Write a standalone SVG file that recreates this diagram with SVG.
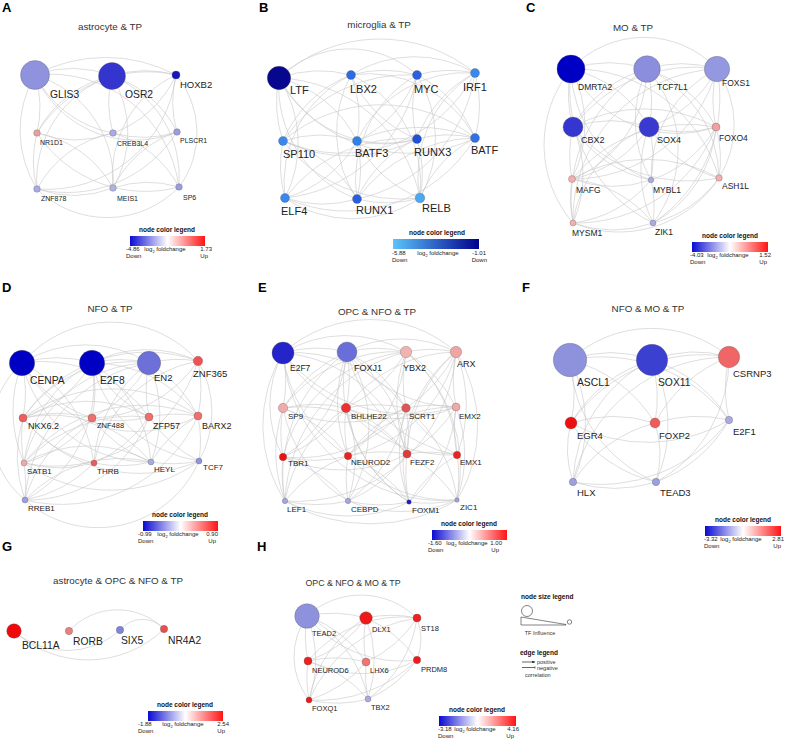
<svg xmlns="http://www.w3.org/2000/svg" width="787" height="740" viewBox="0 0 787 740">
<defs>
<linearGradient id="gBWR" x1="0" x2="1" y1="0" y2="0"><stop offset="0" stop-color="#0a0ad2"/><stop offset="0.5" stop-color="#ffffff"/><stop offset="1" stop-color="#ff1414"/></linearGradient>
<linearGradient id="gB" x1="0" x2="1" y1="0" y2="0"><stop offset="0" stop-color="#5cc4fc"/><stop offset="1" stop-color="#00008c"/></linearGradient>
<marker id="arr" viewBox="0 0 6 6" refX="6" refY="3" markerWidth="4" markerHeight="4" orient="auto"><path d="M0 0L6 3L0 6z" fill="#222"/></marker>
<marker id="tbar" viewBox="0 0 2 6" refX="1" refY="3" markerWidth="1.6" markerHeight="4" orient="auto"><path d="M1 0V6" stroke="#222" stroke-width="1"/></marker>
</defs>
<style>
text{font-family:"Liberation Sans",Arial,sans-serif;fill:#222}
.e{fill:none;stroke:#c8c8c8;stroke-width:.6}
.n circle{stroke:#555;stroke-width:.5;stroke-opacity:.6}
.pl{font-size:13px;font-weight:bold;fill:#000}
.t{font-size:9.8px;fill:#333;text-anchor:middle}
.lt{font-size:6.5px;font-weight:bold;text-anchor:middle;fill:#111}
.lv{font-size:6px;fill:#222}
.lm{text-anchor:middle}
.r{text-anchor:end}
.s11{font-size:11px}.s10{font-size:10.3px}.s95{font-size:9.5px}.s9{font-size:9px}.s85{font-size:8.5px}.s8{font-size:8px}.s75{font-size:7.5px}.s7{font-size:7px}
.ls{font-size:5.5px;fill:#333}
.lk{stroke:#222;stroke-width:.7;fill:none}
</style>
<rect width="787" height="740" fill="#fff"/>

<g id="panel-letters">
<text class="pl" x="2" y="12">A</text><text class="pl" x="259" y="12">B</text><text class="pl" x="526" y="12">C</text>
<text class="pl" x="2" y="292">D</text><text class="pl" x="258" y="292">E</text><text class="pl" x="522" y="292">F</text>
<text class="pl" x="2" y="551">G</text><text class="pl" x="257" y="551">H</text>
</g>
<g id="titles">
<text class="t" x="110" y="30">astrocyte &amp; TP</text>
<text class="t" x="379" y="28">microglia &amp; TP</text>
<text class="t" x="633" y="31">MO &amp; TP</text>
<text class="t" x="110" y="312">NFO &amp; TP</text>
<text class="t" x="377" y="315">OPC &amp; NFO &amp; TP</text>
<text class="t" x="648" y="312">NFO &amp; MO &amp; TP</text>
<text class="t" x="118" y="584">astrocyte &amp; OPC &amp; NFO &amp; TP</text>
<text class="t" x="353" y="586" style="font-size:8.8px">OPC &amp; NFO &amp; MO &amp; TP</text>
</g>

<g id="connectors" class="e">
<g id="edges-A">
<path d="M35 75A110 110 0 0 1 112 76"/><path d="M35 75A150 150 0 0 1 176 75"/><path d="M112 76A110 110 0 0 1 176 75"/>
<path d="M35 75A110 110 0 0 0 113 133"/><path d="M35 75A110 110 0 0 1 113 188"/><path d="M35 75A110 110 0 0 0 177 132"/>
<path d="M35 75A130 130 0 0 1 179 187"/><path d="M35 75A110 110 0 0 0 37 189"/><path d="M35 75A110 110 0 0 1 37 133"/>
<path d="M112 76A110 110 0 0 0 37 133"/><path d="M112 76A110 110 0 0 0 37 189"/><path d="M112 76A110 110 0 0 1 113 188"/>
<path d="M112 76A110 110 0 0 1 177 132"/><path d="M112 76A110 110 0 0 1 179 187"/><path d="M112 76A110 110 0 0 0 113 133"/>
<path d="M176 75A130 130 0 0 0 37 133"/><path d="M176 75A110 110 0 0 1 113 133"/><path d="M176 75A110 110 0 0 0 177 132"/>
<path d="M176 75A130 130 0 0 1 37 189"/><path d="M176 75A110 110 0 0 0 113 188"/><path d="M176 75A90 90 0 0 1 179 187"/>
<path d="M37 133A110 110 0 0 0 113 133"/><path d="M37 133A110 110 0 0 1 113 188"/><path d="M37 133A110 110 0 0 0 37 189"/>
<path d="M37 133A130 130 0 0 0 179 187"/><path d="M113 133A110 110 0 0 0 37 189"/><path d="M113 133A110 110 0 0 0 177 132"/>
<path d="M113 133A110 110 0 0 1 179 187"/><path d="M177 132A130 130 0 0 1 37 189"/><path d="M177 132A110 110 0 0 0 113 188"/>
<path d="M37 189A110 110 0 0 0 113 188"/><path d="M37 189A100 100 0 0 0 179 187"/><path d="M113 188A110 110 0 0 1 179 187"/>
</g>
<g id="edges-B">
<path d="M279 78A120 120 0 0 1 351 75"/><path d="M279 78A100 100 0 0 1 417 75"/><path d="M279 78A150 150 0 0 1 475 73"/>
<path d="M351 75A120 120 0 0 1 417 75"/><path d="M351 75A120 120 0 0 1 475 73"/><path d="M417 75A120 120 0 0 1 475 73"/>
<path d="M279 78A120 120 0 0 0 283 141"/><path d="M279 78A120 120 0 0 1 357 141"/><path d="M279 78A120 120 0 0 0 417 139"/>
<path d="M279 78A150 150 0 0 0 475 138"/><path d="M279 78A120 120 0 0 1 285 198"/><path d="M279 78A120 120 0 0 0 357 199"/>
<path d="M279 78A150 150 0 0 1 420 198"/>
<path d="M351 75A120 120 0 0 0 283 141"/><path d="M351 75A120 120 0 0 1 357 141"/><path d="M351 75A120 120 0 0 0 417 139"/>
<path d="M351 75A120 120 0 0 1 475 138"/><path d="M351 75A120 120 0 0 0 285 198"/><path d="M351 75A120 120 0 0 0 357 199"/>
<path d="M351 75A120 120 0 0 1 420 198"/>
<path d="M417 75A150 150 0 0 0 283 141"/><path d="M417 75A120 120 0 0 1 357 141"/><path d="M417 75A120 120 0 0 0 417 139"/>
<path d="M417 75A120 120 0 0 1 475 138"/><path d="M417 75A150 150 0 0 1 285 198"/><path d="M417 75A120 120 0 0 0 357 199"/>
<path d="M417 75A120 120 0 0 1 420 198"/>
<path d="M475 73A150 150 0 0 1 283 141"/><path d="M475 73A120 120 0 0 0 357 141"/><path d="M475 73A120 120 0 0 0 417 139"/>
<path d="M475 73A120 120 0 0 1 475 138"/><path d="M475 73A150 150 0 0 1 357 199"/><path d="M475 73A120 120 0 0 0 420 198"/>
<path d="M283 141A120 120 0 0 1 357 141"/><path d="M283 141A150 150 0 0 0 417 139"/><path d="M283 141A120 120 0 0 0 285 198"/>
<path d="M283 141A120 120 0 0 1 357 199"/><path d="M283 141A150 150 0 0 0 420 198"/><path d="M283 141A150 150 0 0 1 475 138"/>
<path d="M357 141A120 120 0 0 0 417 139"/><path d="M357 141A120 120 0 0 1 285 198"/><path d="M357 141A120 120 0 0 1 357 199"/>
<path d="M357 141A120 120 0 0 0 420 198"/><path d="M357 141A150 150 0 0 1 475 138"/>
<path d="M417 139A120 120 0 0 1 475 138"/><path d="M417 139A120 120 0 0 1 420 198"/><path d="M417 139A150 150 0 0 0 285 198"/>
<path d="M417 139A120 120 0 0 0 357 199"/>
<path d="M475 138A120 120 0 0 0 420 198"/><path d="M475 138A150 150 0 0 0 357 199"/><path d="M475 138A150 150 0 0 1 285 198"/>
<path d="M285 198A120 120 0 0 0 357 199"/><path d="M285 198A120 120 0 0 0 420 198"/><path d="M357 199A120 120 0 0 0 420 198"/>
</g>
<g id="edges-C">
<path d="M571 69A120 120 0 0 1 647 69"/><path d="M571 69A100 100 0 0 1 717 69"/><path d="M647 69A120 120 0 0 1 717 69"/>
<path d="M571 69A120 120 0 0 0 573 127"/><path d="M571 69A120 120 0 0 1 649 127"/><path d="M571 69A120 120 0 0 0 716 127"/>
<path d="M571 69A120 120 0 0 1 572 179"/><path d="M571 69A120 120 0 0 0 651 180"/><path d="M571 69A150 150 0 0 1 719 178"/>
<path d="M571 69A120 120 0 0 0 573 223"/><path d="M571 69A150 150 0 0 0 653 223"/>
<path d="M647 69A120 120 0 0 0 573 127"/><path d="M647 69A120 120 0 0 1 649 127"/><path d="M647 69A120 120 0 0 1 716 127"/>
<path d="M647 69A120 120 0 0 1 572 179"/><path d="M647 69A120 120 0 0 0 651 180"/><path d="M647 69A120 120 0 0 1 719 178"/>
<path d="M647 69A150 150 0 0 0 573 223"/><path d="M647 69A120 120 0 0 1 653 223"/>
<path d="M717 69A150 150 0 0 0 573 127"/><path d="M717 69A120 120 0 0 1 649 127"/><path d="M717 69A120 120 0 0 0 716 127"/>
<path d="M717 69A150 150 0 0 1 572 179"/><path d="M717 69A120 120 0 0 0 651 180"/><path d="M717 69A100 100 0 0 1 719 178"/>
<path d="M717 69A150 150 0 0 0 573 223"/><path d="M717 69A150 150 0 0 1 653 223"/>
<path d="M573 127A120 120 0 0 1 649 127"/><path d="M573 127A150 150 0 0 1 716 127"/><path d="M573 127A120 120 0 0 0 572 179"/>
<path d="M573 127A120 120 0 0 0 651 180"/><path d="M573 127A120 120 0 0 1 573 223"/><path d="M573 127A150 150 0 0 0 719 178"/>
<path d="M649 127A120 120 0 0 0 716 127"/><path d="M649 127A120 120 0 0 1 572 179"/><path d="M649 127A120 120 0 0 1 651 180"/>
<path d="M649 127A120 120 0 0 0 719 178"/><path d="M649 127A120 120 0 0 0 573 223"/><path d="M649 127A120 120 0 0 0 653 223"/>
<path d="M716 127A150 150 0 0 0 572 179"/><path d="M716 127A120 120 0 0 1 651 180"/><path d="M716 127A120 120 0 0 1 719 178"/>
<path d="M716 127A150 150 0 0 1 573 223"/><path d="M716 127A120 120 0 0 1 653 223"/>
<path d="M572 179A120 120 0 0 0 651 180"/><path d="M572 179A120 120 0 0 0 573 223"/><path d="M572 179A120 120 0 0 1 653 223"/>
<path d="M572 179A150 150 0 0 1 719 178"/><path d="M651 180A120 120 0 0 1 653 223"/><path d="M651 180A120 120 0 0 1 573 223"/>
<path d="M719 178A120 120 0 0 1 653 223"/><path d="M719 178A120 120 0 0 1 573 223"/><path d="M573 223A120 120 0 0 0 653 223"/>
</g>
<g id="edges-D">
<path d="M22 363A120 120 0 0 1 92 363"/><path d="M22 363A120 120 0 0 1 149 363"/><path d="M22 363A117 117 0 0 1 198 361"/>
<path d="M92 363A120 120 0 0 1 149 363"/><path d="M92 363A120 120 0 0 1 198 361"/><path d="M149 363A120 120 0 0 1 198 361"/>
<path d="M22 363A130 130 0 0 1 23 418"/><path d="M22 363A130 130 0 0 0 92 418"/><path d="M22 363A130 130 0 0 1 149 417"/>
<path d="M22 363A130 130 0 0 0 198 416"/><path d="M22 363A130 130 0 0 0 24 463"/><path d="M22 363A130 130 0 0 1 94 463"/>
<path d="M22 363A130 130 0 0 0 151 462"/><path d="M22 363A90 90 0 0 0 25 500"/>
<path d="M92 363A130 130 0 0 1 23 418"/><path d="M92 363A130 130 0 0 1 92 418"/><path d="M92 363A130 130 0 0 0 149 417"/>
<path d="M92 363A130 130 0 0 1 198 416"/><path d="M92 363A130 130 0 0 0 24 463"/><path d="M92 363A130 130 0 0 1 151 462"/>
<path d="M92 363A130 130 0 0 0 199 461"/><path d="M92 363A130 130 0 0 1 25 500"/>
<path d="M149 363A130 130 0 0 0 23 418"/><path d="M149 363A130 130 0 0 1 92 418"/><path d="M149 363A130 130 0 0 0 149 417"/>
<path d="M149 363A130 130 0 0 1 198 416"/><path d="M149 363A130 130 0 0 0 94 463"/><path d="M149 363A130 130 0 0 1 151 462"/>
<path d="M149 363A130 130 0 0 0 24 463"/><path d="M149 363A150 150 0 0 0 25 500"/>
<path d="M198 361A150 150 0 0 0 23 418"/><path d="M198 361A130 130 0 0 1 92 418"/><path d="M198 361A130 130 0 0 1 198 416"/>
<path d="M198 361A100 100 0 0 1 199 461"/><path d="M198 361A130 130 0 0 0 94 463"/><path d="M198 361A150 150 0 0 1 24 463"/>
<path d="M23 418A130 130 0 0 1 92 418"/><path d="M23 418A130 130 0 0 1 149 417"/><path d="M23 418A150 150 0 0 1 198 416"/>
<path d="M23 418A130 130 0 0 0 24 463"/><path d="M23 418A130 130 0 0 0 25 500"/><path d="M23 418A130 130 0 0 0 94 463"/>
<path d="M23 418A130 130 0 0 1 151 462"/><path d="M23 418A150 150 0 0 0 199 461"/>
<path d="M92 418A130 130 0 0 0 149 417"/><path d="M92 418A130 130 0 0 1 24 463"/><path d="M92 418A130 130 0 0 0 25 500"/>
<path d="M92 418A130 130 0 0 0 151 462"/>
<path d="M149 417A130 130 0 0 1 198 416"/><path d="M149 417A150 150 0 0 0 24 463"/><path d="M149 417A130 130 0 0 1 25 500"/>
<path d="M149 417A130 130 0 0 0 199 461"/><path d="M149 417A130 130 0 0 1 94 463"/>
<path d="M198 416A130 130 0 0 1 199 461"/><path d="M198 416A150 150 0 0 0 24 463"/><path d="M198 416A150 150 0 0 1 25 500"/>
<path d="M198 416A130 130 0 0 0 151 462"/>
<path d="M24 463A130 130 0 0 0 94 463"/><path d="M24 463A130 130 0 0 1 151 462"/><path d="M24 463A130 130 0 0 1 25 500"/>
<path d="M24 463A150 150 0 0 0 199 461"/><path d="M94 463A130 130 0 0 0 151 462"/><path d="M94 463A130 130 0 0 1 25 500"/>
<path d="M151 462A130 130 0 0 0 199 461"/><path d="M151 462A130 130 0 0 0 25 500"/><path d="M199 461A110 110 0 0 1 25 500"/>
</g>
<g id="edges-E">
<path d="M283 353A120 120 0 0 1 347 352"/><path d="M283 353A120 120 0 0 1 406 352"/><path d="M283 353A130 130 0 0 1 456 352"/>
<path d="M347 352A120 120 0 0 1 406 352"/><path d="M347 352A120 120 0 0 1 456 352"/><path d="M406 352A120 120 0 0 1 456 352"/>
<path d="M283 353A140 140 0 0 0 285 501"/><path d="M283 353A110 110 0 0 0 283 457"/><path d="M283 353A160 160 0 0 0 457 500"/>
<path d="M456 352A140 140 0 0 1 457 500"/><path d="M456 352A160 160 0 0 1 285 501"/><path d="M285 501A170 170 0 0 0 457 500"/>
<path d="M347 352A150 150 0 0 0 285 501"/><path d="M406 352A150 150 0 0 1 457 500"/>
<path d="M283 353A140 140 0 0 1 283 408"/><path d="M283 353A140 140 0 0 0 346 408"/><path d="M283 353A140 140 0 0 1 406 408"/>
<path d="M283 353A140 140 0 0 0 348 456"/><path d="M283 353A140 140 0 0 1 407 454"/><path d="M283 353A160 160 0 0 0 456 407"/>
<path d="M347 352A140 140 0 0 0 283 408"/><path d="M347 352A140 140 0 0 1 346 408"/><path d="M347 352A140 140 0 0 1 406 408"/>
<path d="M347 352A140 140 0 0 0 456 407"/><path d="M347 352A140 140 0 0 1 283 457"/><path d="M347 352A140 140 0 0 0 348 456"/>
<path d="M347 352A140 140 0 0 1 407 454"/><path d="M347 352A140 140 0 0 0 457 455"/><path d="M347 352A140 140 0 0 1 348 501"/>
<path d="M347 352A140 140 0 0 0 409 502"/>
<path d="M406 352A140 140 0 0 0 283 408"/><path d="M406 352A140 140 0 0 1 346 408"/><path d="M406 352A140 140 0 0 0 406 408"/>
<path d="M406 352A140 140 0 0 1 456 407"/><path d="M406 352A140 140 0 0 0 283 457"/><path d="M406 352A140 140 0 0 1 348 456"/>
<path d="M406 352A140 140 0 0 0 407 454"/><path d="M406 352A140 140 0 0 1 457 455"/><path d="M406 352A160 160 0 0 0 285 501"/>
<path d="M456 352A140 140 0 0 0 346 408"/><path d="M456 352A140 140 0 0 1 406 408"/><path d="M456 352A140 140 0 0 0 456 407"/>
<path d="M456 352A140 140 0 0 1 348 456"/><path d="M456 352A140 140 0 0 0 407 454"/><path d="M456 352A140 140 0 0 1 457 455"/>
<path d="M456 352A140 140 0 0 0 409 502"/>
<path d="M283 408A140 140 0 0 1 346 408"/><path d="M283 408A140 140 0 0 0 406 408"/><path d="M283 408A140 140 0 0 0 283 457"/>
<path d="M283 408A140 140 0 0 1 348 456"/><path d="M283 408A140 140 0 0 0 285 501"/><path d="M283 408A140 140 0 0 0 348 501"/>
<path d="M283 408A140 140 0 0 1 407 454"/>
<path d="M346 408A140 140 0 0 1 406 408"/><path d="M346 408A140 140 0 0 0 456 407"/><path d="M346 408A140 140 0 0 1 283 457"/>
<path d="M346 408A140 140 0 0 0 348 456"/><path d="M346 408A140 140 0 0 1 407 454"/><path d="M346 408A140 140 0 0 0 457 455"/>
<path d="M346 408A140 140 0 0 0 285 501"/><path d="M346 408A140 140 0 0 1 348 501"/><path d="M346 408A140 140 0 0 0 409 502"/>
<path d="M406 408A140 140 0 0 1 456 407"/><path d="M406 408A140 140 0 0 0 348 456"/><path d="M406 408A140 140 0 0 1 407 454"/>
<path d="M406 408A140 140 0 0 0 457 455"/><path d="M406 408A140 140 0 0 1 348 501"/><path d="M406 408A140 140 0 0 0 409 502"/>
<path d="M406 408A140 140 0 0 1 457 500"/><path d="M406 408A140 140 0 0 1 283 457"/>
<path d="M456 407A140 140 0 0 1 407 454"/><path d="M456 407A140 140 0 0 0 457 455"/><path d="M456 407A140 140 0 0 1 409 502"/>
<path d="M456 407A140 140 0 0 1 457 500"/><path d="M456 407A140 140 0 0 0 348 456"/>
<path d="M283 457A140 140 0 0 0 348 456"/><path d="M283 457A140 140 0 0 0 285 501"/><path d="M283 457A140 140 0 0 1 348 501"/>
<path d="M283 457A140 140 0 0 0 407 454"/>
<path d="M348 456A140 140 0 0 1 407 454"/><path d="M348 456A140 140 0 0 0 348 501"/><path d="M348 456A140 140 0 0 1 409 502"/>
<path d="M348 456A140 140 0 0 0 285 501"/><path d="M348 456A140 140 0 0 0 457 500"/>
<path d="M407 454A140 140 0 0 1 457 455"/><path d="M407 454A140 140 0 0 0 409 502"/><path d="M407 454A140 140 0 0 1 457 500"/>
<path d="M407 454A140 140 0 0 1 348 501"/><path d="M457 455A140 140 0 0 1 457 500"/><path d="M457 455A140 140 0 0 0 409 502"/>
<path d="M285 501A140 140 0 0 0 348 501"/><path d="M348 501A140 140 0 0 0 409 502"/><path d="M409 502A140 140 0 0 0 457 500"/>
<path d="M285 501A140 140 0 0 0 409 502"/><path d="M348 501A140 140 0 0 0 457 500"/>
</g>
<g id="edges-F">
<path d="M570 360A120 120 0 0 1 652 360"/><path d="M570 360A120 120 0 0 1 729 357"/><path d="M652 360A120 120 0 0 1 729 357"/>
<path d="M570 360A140 140 0 0 1 571 423"/><path d="M570 360A140 140 0 0 1 655 423"/><path d="M570 360A140 140 0 0 1 573 482"/>
<path d="M570 360A140 140 0 0 0 656 482"/><path d="M570 360A160 160 0 0 1 729 420"/>
<path d="M652 360A140 140 0 0 0 571 423"/><path d="M652 360A140 140 0 0 1 655 423"/><path d="M652 360A140 140 0 0 0 573 482"/>
<path d="M652 360A140 140 0 0 1 656 482"/><path d="M652 360A140 140 0 0 1 729 420"/>
<path d="M729 357A160 160 0 0 0 571 423"/><path d="M729 357A140 140 0 0 0 655 423"/><path d="M729 357A140 140 0 0 0 729 420"/>
<path d="M729 357A160 160 0 0 0 573 482"/><path d="M729 357A140 140 0 0 1 656 482"/>
<path d="M571 423A140 140 0 0 1 655 423"/><path d="M571 423A160 160 0 0 0 729 420"/><path d="M571 423A100 100 0 0 0 573 482"/>
<path d="M571 423A140 140 0 0 0 656 482"/><path d="M655 423A140 140 0 0 1 729 420"/><path d="M655 423A140 140 0 0 0 573 482"/>
<path d="M655 423A100 100 0 0 1 656 482"/><path d="M729 420A160 160 0 0 1 573 482"/><path d="M573 482A140 140 0 0 0 656 482"/>
<path d="M729 420A140 140 0 0 1 656 482"/>
</g>
<g id="edges-G">
<path d="M14 631A80 80 0 0 0 120 630"/><path d="M14 631A109 109 0 0 0 164 629"/>
<path d="M69 631A66 66 0 0 1 164 629"/><path d="M120 630A29 29 0 0 1 164 629"/>
</g>
<g id="edges-H">
<path d="M307 616A120 120 0 0 1 366 618"/><path d="M307 616A80 80 0 0 1 417 618"/><path d="M366 618A120 120 0 0 1 417 618"/>
<path d="M307 616A120 120 0 0 0 308 661"/><path d="M307 616A120 120 0 0 1 366 662"/><path d="M307 616A120 120 0 0 0 417 660"/>
<path d="M307 616A120 120 0 0 1 309 700"/><path d="M307 616A120 120 0 0 1 368 699"/><path d="M307 616A70 70 0 0 0 309 700"/>
<path d="M366 618A120 120 0 0 1 308 661"/><path d="M366 618A120 120 0 0 0 366 662"/><path d="M366 618A120 120 0 0 1 417 660"/>
<path d="M366 618A120 120 0 0 0 309 700"/><path d="M366 618A120 120 0 0 1 368 699"/>
<path d="M417 618A120 120 0 0 0 308 661"/><path d="M417 618A120 120 0 0 1 366 662"/><path d="M417 618A60 60 0 0 1 417 660"/>
<path d="M417 618A120 120 0 0 1 368 699"/><path d="M417 618A140 140 0 0 0 309 700"/>
<path d="M308 661A120 120 0 0 1 366 662"/><path d="M308 661A120 120 0 0 0 417 660"/><path d="M308 661A120 120 0 0 0 309 700"/>
<path d="M308 661A120 120 0 0 1 368 699"/><path d="M366 662A120 120 0 0 1 309 700"/><path d="M366 662A120 120 0 0 0 368 699"/>
<path d="M417 660A140 140 0 0 1 309 700"/><path d="M417 660A120 120 0 0 1 368 699"/><path d="M309 700A120 120 0 0 0 368 699"/>
</g>
</g>

<g id="nodes-A">
<g id="A-GLIS3" class="n"><circle cx="35" cy="75" r="14.5" fill="#8f92dd"/><text class="s10" x="50" y="98">GLIS3</text></g>
<g id="A-OSR2" class="n"><circle cx="112" cy="76" r="13.5" fill="#3434cf"/><text class="s10" x="125" y="98">OSR2</text></g>
<g id="A-HOXB2" class="n"><circle cx="176" cy="75" r="4" fill="#1616c0"/><text class="s95" x="180" y="87.5">HOXB2</text></g>
<g id="A-NR1D1" class="n"><circle cx="37" cy="133" r="3.3" fill="#eba0a0"/><text class="s7" x="40" y="144.5">NR1D1</text></g>
<g id="A-CREB3L4" class="n"><circle cx="113" cy="133" r="3.3" fill="#a9abe2"/><text class="s7" x="117" y="145.5">CREB3L4</text></g>
<g id="A-PLSCR1" class="n"><circle cx="177" cy="132" r="3.3" fill="#9a9de0"/><text class="s7" x="180" y="142.5">PLSCR1</text></g>
<g id="A-ZNF878" class="n"><circle cx="37" cy="189" r="3.3" fill="#a9abe2"/><text class="s7" x="41" y="200.5">ZNF878</text></g>
<g id="A-MEIS1" class="n"><circle cx="113" cy="188" r="3.3" fill="#b0b2e4"/><text class="s7" x="117" y="200.5">MEIS1</text></g>
<g id="A-SP6" class="n"><circle cx="179" cy="187" r="3.3" fill="#9a9de0"/><text class="s7" x="183" y="199.5">SP6</text></g>
</g>
<g id="nodes-B">
<g id="B-LTF" class="n"><circle cx="279" cy="78" r="11.7" fill="#06068e"/><text class="s11" x="290" y="94">LTF</text></g>
<g id="B-LBX2" class="n"><circle cx="351" cy="75" r="4.5" fill="#2c6ae8"/><text class="s11" x="350" y="93">LBX2</text></g>
<g id="B-MYC" class="n"><circle cx="417" cy="75" r="4.5" fill="#2a5fe0"/><text class="s11" x="414" y="93">MYC</text></g>
<g id="B-IRF1" class="n"><circle cx="475" cy="73" r="4.5" fill="#3a88ee"/><text class="s11" x="463" y="91">IRF1</text></g>
<g id="B-SP110" class="n"><circle cx="283" cy="141" r="4.5" fill="#3a88ee"/><text class="s11" x="283" y="158">SP110</text></g>
<g id="B-BATF3" class="n"><circle cx="357" cy="141" r="4.5" fill="#3080ec"/><text class="s11" x="355" y="157">BATF3</text></g>
<g id="B-RUNX3" class="n"><circle cx="417" cy="139" r="4.5" fill="#2050d8"/><text class="s11" x="414" y="156">RUNX3</text></g>
<g id="B-BATF" class="n"><circle cx="475" cy="138" r="4.5" fill="#3070ea"/><text class="s11" x="471" y="154">BATF</text></g>
<g id="B-ELF4" class="n"><circle cx="285" cy="198" r="4.5" fill="#3a88ee"/><text class="s11" x="281" y="215">ELF4</text></g>
<g id="B-RUNX1" class="n"><circle cx="357" cy="199" r="4.5" fill="#2a5ee0"/><text class="s11" x="356" y="214">RUNX1</text></g>
<g id="B-RELB" class="n"><circle cx="420" cy="198" r="4.8" fill="#4aa8f4"/><text class="s11" x="422" y="212">RELB</text></g>
</g>
<g id="nodes-C">
<g id="C-DMRTA2" class="n"><circle cx="571" cy="69" r="14" fill="#0000c4"/><text class="s85" x="578" y="90">DMRTA2</text></g>
<g id="C-TCF7L1" class="n"><circle cx="647" cy="69" r="13.3" fill="#8a8edc"/><text class="s85" x="657" y="90">TCF7L1</text></g>
<g id="C-FOXS1" class="n"><circle cx="717" cy="69" r="12.7" fill="#9498e0"/><text class="s85" x="722" y="86">FOXS1</text></g>
<g id="C-CBX2" class="n"><circle cx="573" cy="127" r="10" fill="#3535d0"/><text class="s9" x="581" y="143">CBX2</text></g>
<g id="C-SOX4" class="n"><circle cx="649" cy="127" r="10" fill="#3a3ad0"/><text class="s9" x="657" y="143">SOX4</text></g>
<g id="C-FOXO4" class="n"><circle cx="716" cy="127" r="4" fill="#f0a0a0"/><text class="s85" x="719" y="141">FOXO4</text></g>
<g id="C-MAFG" class="n"><circle cx="572" cy="179" r="3.5" fill="#f2b0b0"/><text class="s85" x="576" y="193">MAFG</text></g>
<g id="C-MYBL1" class="n"><circle cx="651" cy="180" r="2.8" fill="#a8aae2"/><text class="s85" x="653" y="193">MYBL1</text></g>
<g id="C-ASH1L" class="n"><circle cx="719" cy="178" r="3.3" fill="#f0b0b0"/><text class="s85" x="722" y="189">ASH1L</text></g>
<g id="C-MYSM1" class="n"><circle cx="573" cy="223" r="3" fill="#f0b0b0"/><text class="s85" x="572" y="236">MYSM1</text></g>
<g id="C-ZIK1" class="n"><circle cx="653" cy="223" r="3" fill="#a8aae2"/><text class="s85" x="655" y="235">ZIK1</text></g>
</g>
<g id="nodes-D">
<g id="D-CENPA" class="n"><circle cx="22" cy="363" r="12.7" fill="#0000c4"/><text class="s10" x="30" y="383.5">CENPA</text></g>
<g id="D-E2F8" class="n"><circle cx="92" cy="363" r="12.7" fill="#0000c4"/><text class="s10" x="100" y="383.5">E2F8</text></g>
<g id="D-EN2" class="n"><circle cx="149" cy="363" r="11.7" fill="#6c70d8"/><text class="s95" x="154" y="380.5">EN2</text></g>
<g id="D-ZNF365" class="n"><circle cx="198" cy="361" r="4.7" fill="#f05252"/><text class="s95" x="193" y="376.5">ZNF365</text></g>
<g id="D-NKX6.2" class="n"><circle cx="23" cy="418" r="4" fill="#ef5e5e"/><text class="s9" x="28" y="429">NKX6.2</text></g>
<g id="D-ZNF488" class="n"><circle cx="92" cy="418" r="4" fill="#ef6e6e"/><text class="s75" x="97" y="427.5">ZNF488</text></g>
<g id="D-ZFP57" class="n"><circle cx="149" cy="417" r="4" fill="#ef6e6e"/><text class="s9" x="153" y="429">ZFP57</text></g>
<g id="D-BARX2" class="n"><circle cx="198" cy="416" r="4" fill="#ef6e6e"/><text class="s9" x="202" y="429">BARX2</text></g>
<g id="D-SATB1" class="n"><circle cx="24" cy="463" r="3" fill="#f0a8a8"/><text class="s8" x="27" y="474">SATB1</text></g>
<g id="D-THRB" class="n"><circle cx="94" cy="463" r="3" fill="#ef5858"/><text class="s8" x="97" y="474">THRB</text></g>
<g id="D-HEYL" class="n"><circle cx="151" cy="462" r="3" fill="#a8aae2"/><text class="s8" x="154" y="472">HEYL</text></g>
<g id="D-TCF7" class="n"><circle cx="199" cy="461" r="3" fill="#9094dc"/><text class="s8" x="203" y="470">TCF7</text></g>
<g id="D-RREB1" class="n"><circle cx="25" cy="500" r="3" fill="#9ca0de"/><text class="s8" x="28" y="511">RREB1</text></g>
</g>
<g id="nodes-E">
<g id="E-E2F7" class="n"><circle cx="283" cy="353" r="11" fill="#2424ca"/><text class="s85" x="290" y="371">E2F7</text></g>
<g id="E-FOXJ1" class="n"><circle cx="347" cy="352" r="10" fill="#6a6ed8"/><text class="s9" x="354" y="371">FOXJ1</text></g>
<g id="E-YBX2" class="n"><circle cx="406" cy="352" r="5.7" fill="#f2b2b2"/><text class="s9" x="403" y="371">YBX2</text></g>
<g id="E-ARX" class="n"><circle cx="456" cy="352" r="5.7" fill="#f0a4a4"/><text class="s9" x="457" y="367">ARX</text></g>
<g id="E-SP9" class="n"><circle cx="283" cy="408" r="4.7" fill="#f0aaaa"/><text class="s8" x="288" y="419">SP9</text></g>
<g id="E-BHLHE22" class="n"><circle cx="346" cy="408" r="4.7" fill="#ee3030"/><text class="s8" x="351" y="419">BHLHE22</text></g>
<g id="E-SCRT1" class="n"><circle cx="406" cy="408" r="4.3" fill="#e05454"/><text class="s8" x="409" y="419">SCRT1</text></g>
<g id="E-EMX2" class="n"><circle cx="456" cy="407" r="4" fill="#f0a8a8"/><text class="s8" x="459" y="419">EMX2</text></g>
<g id="E-TBR1" class="n"><circle cx="283" cy="457" r="3.7" fill="#ee1010"/><text class="s8" x="288" y="466">TBR1</text></g>
<g id="E-NEUROD2" class="n"><circle cx="348" cy="456" r="3.7" fill="#ee2020"/><text class="s8" x="351" y="465">NEUROD2</text></g>
<g id="E-FEZF2" class="n"><circle cx="407" cy="454" r="4" fill="#e03c3c"/><text class="s8" x="410" y="465">FEZF2</text></g>
<g id="E-EMX1" class="n"><circle cx="457" cy="455" r="3.7" fill="#ee2020"/><text class="s8" x="460" y="465">EMX1</text></g>
<g id="E-LEF1" class="n"><circle cx="285" cy="501" r="2.7" fill="#a4a6e0"/><text class="s8" x="287" y="512">LEF1</text></g>
<g id="E-CEBPD" class="n"><circle cx="348" cy="501" r="2.7" fill="#a4a6e0"/><text class="s8" x="351" y="512">CEBPD</text></g>
<g id="E-FOXM1" class="n"><circle cx="409" cy="502" r="2.3" fill="#1c1cc4"/><text class="s8" x="412" y="513">FOXM1</text></g>
<g id="E-ZIC1" class="n"><circle cx="457" cy="500" r="2.3" fill="#9ea2de"/><text class="s8" x="460" y="510">ZIC1</text></g>
</g>
<g id="nodes-F">
<g id="F-ASCL1" class="n"><circle cx="570" cy="360" r="16.7" fill="#8e92dc"/><text class="s10" x="577" y="385.5">ASCL1</text></g>
<g id="F-SOX11" class="n"><circle cx="652" cy="360" r="15.7" fill="#3c40d0"/><text class="s10" x="658" y="385.5">SOX11</text></g>
<g id="F-CSRNP3" class="n"><circle cx="729" cy="357" r="10.7" fill="#f06666"/><text class="s95" x="733" y="376.5">CSRNP3</text></g>
<g id="F-EGR4" class="n"><circle cx="571" cy="423" r="6" fill="#ee1010"/><text class="s95" x="577" y="438.5">EGR4</text></g>
<g id="F-FOXP2" class="n"><circle cx="655" cy="423" r="5" fill="#f05a5a"/><text class="s95" x="659" y="438.5">FOXP2</text></g>
<g id="F-E2F1" class="n"><circle cx="729" cy="420" r="3.7" fill="#aaaae2"/><text class="s95" x="733" y="434.5">E2F1</text></g>
<g id="F-HLX" class="n"><circle cx="573" cy="482" r="3.7" fill="#9ca0de"/><text class="s95" x="577" y="495.5">HLX</text></g>
<g id="F-TEAD3" class="n"><circle cx="656" cy="482" r="3.7" fill="#9ca0de"/><text class="s95" x="660" y="495.5">TEAD3</text></g>
</g>
<g id="nodes-G">
<g id="G-BCL11A" class="n"><circle cx="14" cy="631" r="7.3" fill="#ee0a0a"/><text class="s10" x="22" y="648.5">BCL11A</text></g>
<g id="G-RORB" class="n"><circle cx="69" cy="631" r="3.7" fill="#e88080"/><text class="s10" x="73" y="644.5">RORB</text></g>
<g id="G-SIX5" class="n"><circle cx="120" cy="630" r="3.7" fill="#8084d8"/><text class="s10" x="121" y="643.5">SIX5</text></g>
<g id="G-NR4A2" class="n"><circle cx="164" cy="629" r="3.7" fill="#e85050"/><text class="s10" x="168" y="643.5">NR4A2</text></g>
</g>
<g id="nodes-H">
<g id="H-TEAD2" class="n"><circle cx="307" cy="616" r="12.3" fill="#8e92dc"/><text class="s75" x="312" y="636">TEAD2</text></g>
<g id="H-DLX1" class="n"><circle cx="366" cy="618" r="6.3" fill="#ee1a1a"/><text class="s75" x="372" y="632">DLX1</text></g>
<g id="H-ST18" class="n"><circle cx="417" cy="618" r="4" fill="#ee2020"/><text class="s75" x="421" y="631">ST18</text></g>
<g id="H-NEUROD6" class="n"><circle cx="308" cy="661" r="4" fill="#ee2020"/><text class="s75" x="312" y="673">NEUROD6</text></g>
<g id="H-LHX6" class="n"><circle cx="366" cy="662" r="4" fill="#f07474"/><text class="s75" x="370" y="673">LHX6</text></g>
<g id="H-PRDM8" class="n"><circle cx="417" cy="660" r="3.7" fill="#ee1a1a"/><text class="s75" x="421" y="672">PRDM8</text></g>
<g id="H-FOXQ1" class="n"><circle cx="309" cy="700" r="3" fill="#ee1a1a"/><text class="s75" x="312" y="711">FOXQ1</text></g>
<g id="H-TBX2" class="n"><circle cx="368" cy="699" r="3" fill="#a8aae2"/><text class="s75" x="371" y="710">TBX2</text></g>
</g>

<g id="legend-A">
<text class="lt" x="167" y="232">node color legend</text>
<rect x="130" y="236" width="75" height="10" fill="url(#gBWR)"/>
<text class="lv" x="126" y="251">-4.86</text>
<text class="lv lm" x="165" y="251">log<tspan font-size="4" dy="1.5">2</tspan><tspan dy="-1.5"> foldchange</tspan></text>
<text class="lv r" x="212" y="251">1.73</text>
<text class="lv" x="126" y="258">Down</text><text class="lv r" x="208" y="258">Up</text>
</g>
<g id="legend-B">
<text class="lt" x="437" y="235">node color legend</text>
<rect x="393" y="239" width="86" height="10" fill="url(#gB)"/>
<text class="lv" x="392" y="255">-5.88</text>
<text class="lv lm" x="438" y="255">log<tspan font-size="4" dy="1.5">2</tspan><tspan dy="-1.5"> foldchange</tspan></text>
<text class="lv r" x="486" y="255">-1.01</text>
<text class="lv" x="392" y="262">Down</text><text class="lv r" x="487" y="262">Down</text>
</g>
<g id="legend-C">
<text class="lt" x="730" y="238">node color legend</text>
<rect x="692" y="242" width="76" height="10" fill="url(#gBWR)"/>
<text class="lv" x="690" y="257">-4.03</text>
<text class="lv lm" x="728" y="257">log<tspan font-size="4" dy="1.5">2</tspan><tspan dy="-1.5"> foldchange</tspan></text>
<text class="lv r" x="771" y="257">1.52</text>
<text class="lv" x="690" y="264">Down</text><text class="lv r" x="767" y="264">Up</text>
</g>
<g id="legend-D">
<text class="lt" x="180" y="517">node color legend</text>
<rect x="143" y="521" width="75" height="10" fill="url(#gBWR)"/>
<text class="lv" x="138" y="536">-0.99</text>
<text class="lv lm" x="178" y="536">log<tspan font-size="4" dy="1.5">2</tspan><tspan dy="-1.5"> foldchange</tspan></text>
<text class="lv r" x="218" y="536">0.90</text>
<text class="lv" x="138" y="543">Down</text><text class="lv r" x="216" y="543">Up</text>
</g>
<g id="legend-E">
<text class="lt" x="469" y="526">node color legend</text>
<rect x="432" y="530" width="75" height="10" fill="url(#gBWR)"/>
<text class="lv" x="428" y="545">-1.60</text>
<text class="lv lm" x="467" y="545">log<tspan font-size="4" dy="1.5">2</tspan><tspan dy="-1.5"> foldchange</tspan></text>
<text class="lv r" x="502" y="545">1.00</text>
<text class="lv" x="428" y="552">Down</text><text class="lv r" x="499" y="552">Up</text>
</g>
<g id="legend-F">
<text class="lt" x="743" y="522">node color legend</text>
<rect x="705" y="526" width="76" height="10" fill="url(#gBWR)"/>
<text class="lv" x="704" y="541">-3.32</text>
<text class="lv lm" x="741" y="541">log<tspan font-size="4" dy="1.5">2</tspan><tspan dy="-1.5"> foldchange</tspan></text>
<text class="lv r" x="784" y="541">2.81</text>
<text class="lv" x="704" y="548">Down</text><text class="lv r" x="781" y="548">Up</text>
</g>
<g id="legend-G">
<text class="lt" x="185" y="707">node color legend</text>
<rect x="148" y="711" width="75" height="10" fill="url(#gBWR)"/>
<text class="lv" x="138" y="726">-1.88</text>
<text class="lv lm" x="183" y="726">log<tspan font-size="4" dy="1.5">2</tspan><tspan dy="-1.5"> foldchange</tspan></text>
<text class="lv r" x="229" y="726">2.54</text>
<text class="lv" x="138" y="733">Down</text><text class="lv r" x="225" y="733">Up</text>
</g>
<g id="legend-H">
<text class="lt" x="477" y="712">node color legend</text>
<rect x="439" y="716" width="77" height="10" fill="url(#gBWR)"/>
<text class="lv" x="438" y="731">-3.18</text>
<text class="lv lm" x="475" y="731">log<tspan font-size="4" dy="1.5">2</tspan><tspan dy="-1.5"> foldchange</tspan></text>
<text class="lv r" x="519" y="731">4.16</text>
<text class="lv" x="438" y="738">Down</text><text class="lv r" x="514" y="738">Up</text>
</g>
<g id="size-legend">
<text class="lt" x="521" y="599" text-anchor="start" style="text-anchor:start">node size legend</text>
<circle cx="527" cy="611" r="5.5" fill="#fff" stroke="#333" stroke-width=".6"/>
<path d="M521 617L566 624.5L566 625L521 625Z" fill="#fff" stroke="#333" stroke-width=".6"/>
<circle cx="569.5" cy="622" r="2.2" fill="#fff" stroke="#333" stroke-width=".6"/>
<text class="ls lm" x="540" y="635">TF Influence</text>
</g>
<g id="edge-legend">
<text class="lt" x="520" y="655" style="text-anchor:start">edge legend</text>
<path class="lk" d="M522 662H535" marker-end="url(#arr)"/>
<text class="ls" x="537" y="664">positive</text>
<path class="lk" d="M522 667.5H535" marker-end="url(#tbar)"/>
<text class="ls" x="537" y="669.5">negative</text>
<text class="ls" x="525" y="677">correlation</text>
</g>
</svg>
